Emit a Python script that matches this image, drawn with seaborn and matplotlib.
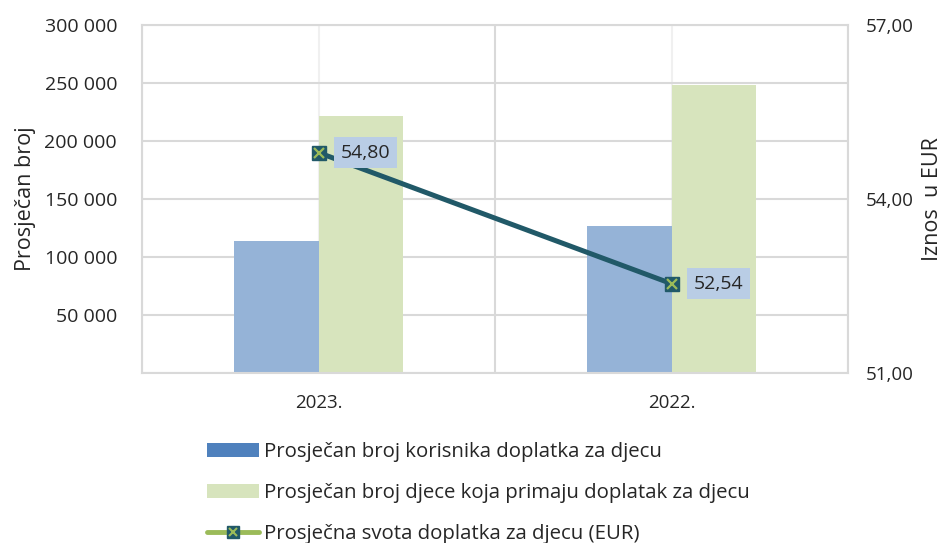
import numpy as np
import pandas as pd
import matplotlib
matplotlib.use("Agg")
import matplotlib.pyplot as plt
import seaborn as sns
from matplotlib.patches import Patch
from matplotlib.lines import Line2D
from matplotlib.legend_handler import HandlerTuple

# data
godine = ["2023.", "2022."]
korisnici = [113800, 126700]
djeca = [221600, 248300]
svota = [54.80, 52.54]

serije = ["Prosječan broj korisnika doplatka za djecu",
          "Prosječan broj djece koja primaju doplatak za djecu"]
linija_naziv = "Prosječna svota doplatka za djecu (EUR)"

lijeve_oznake = [0, 50000, 100000, 150000, 200000, 250000, 300000]
desne_oznake = [51, 54, 57]

# colours
plava = "#95B3D7"
plava_legenda = "#4F81BD"
zelena = "#D7E4BD"
tirkizna = "#215968"
zelena_linija = "#9BBB59"
okvir = "#B9CDE5"
mreza = "#D9D9D9"
tekst = "#262626"

sns.set_style("white")
plt.rcParams["font.family"] = ["Open Sans", "DejaVu Sans"]
plt.rcParams["text.color"] = tekst
plt.rcParams["xtick.color"] = tekst
plt.rcParams["ytick.color"] = tekst

df = pd.DataFrame({
    "godina": godine * 2,
    "serija": [serije[0]] * 2 + [serije[1]] * 2,
    "vrijednost": korisnici + djeca,
})

fig = plt.figure(figsize=(9.46, 5.43), dpi=100)
ax = fig.add_axes([142 / 946, 1 - 373 / 543, (848 - 142) / 946, (373 - 25) / 543])

# grid
ax.set_axisbelow(True)
ax.yaxis.grid(True, color=mreza, lw=1.5)
for x in [-0.5, 0.5, 1.5]:
    ax.axvline(x, color=mreza, lw=1.5, zorder=0)
for x in range(len(godine)):
    ax.axvline(x, color="#F0F0F0", lw=1.5, zorder=0)

sns.barplot(data=df, x="godina", y="vrijednost", hue="serija",
            palette=[plava, zelena], saturation=1, width=0.48, gap=0,
            linewidth=0, edgecolor="none", legend=False, ax=ax, zorder=2)

ax.set_xlim(-0.5, len(godine) - 0.5)
ax.set_ylim(0, 300000)
ax.set_yticks(lijeve_oznake)
ax.set_yticklabels(["" if v == 0 else f"{v:,}".replace(",", " ") for v in lijeve_oznake])
ax.set_xlabel("")
ax.set_ylabel("Prosječan broj", fontsize=15.5, labelpad=6)
ax.tick_params(axis="both", length=0, labelsize=14)
ax.tick_params(axis="x", pad=15, labelsize=13.5)
ax.tick_params(axis="y", pad=18)
for s in ax.spines.values():
    s.set_color(mreza)
    s.set_linewidth(1.5)

# line on the secondary axis
ax2 = ax.twinx()
x_pos = np.arange(len(godine))
sns.lineplot(x=x_pos, y=svota, color=tirkizna, lw=3.6, ax=ax2, zorder=3)
ax2.plot(x_pos, svota, ls="none", marker="s", ms=9.5, mfc=tirkizna, mec=tirkizna, zorder=4)
ax2.plot(x_pos, svota, ls="none", marker="x", ms=7, mew=1.6, color=zelena_linija, zorder=5)
for x, v in zip(x_pos, svota):
    ax2.annotate(f"{v:.2f}".replace(".", ","), (x, v), xytext=(16, 0),
                 textcoords="offset points", va="center", ha="left", fontsize=14,
                 bbox=dict(boxstyle="square,pad=0.35", fc=okvir, ec="none"), zorder=6)

ax2.set_xlim(-0.5, len(godine) - 0.5)
ax2.set_ylim(51, 57)
ax2.set_yticks(desne_oznake)
ax2.set_yticklabels([f"{v:.2f}".replace(".", ",") for v in desne_oznake])
ax2.tick_params(axis="y", length=0, labelsize=13.5, pad=13)
ax2.set_ylabel("Iznos  u EUR", fontsize=15.5, labelpad=6)
for s in ax2.spines.values():
    s.set_visible(False)

# legend
h1 = Patch(facecolor=plava_legenda, edgecolor="none")
h2 = Patch(facecolor=zelena, edgecolor="none")
h3 = (Line2D([], [], color=zelena_linija, lw=3.5, solid_capstyle="round"),
      Line2D([], [], ls="none", marker="s", ms=8, mfc=tirkizna, mec=tirkizna),
      Line2D([], [], ls="none", marker="x", ms=6, mew=1.5, color=zelena_linija))
fig.legend([h1, h2, h3], serije + [linija_naziv],
           handler_map={tuple: HandlerTuple(ndivide=1)},
           loc="upper left", bbox_to_anchor=(207 / 946, 1 - 442 / 543),
           frameon=False, fontsize=14.7, handlelength=2.55, handleheight=0.65,
           handletextpad=0.25, labelspacing=1.04, borderpad=0, borderaxespad=0)

fig.savefig("out.png", dpi=100)
